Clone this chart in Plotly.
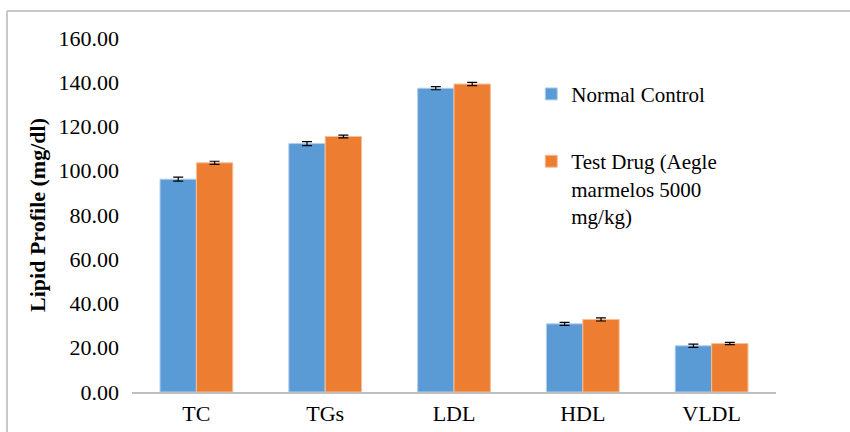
import plotly.graph_objects as go

categories = ["TC", "TGs", "LDL", "HDL", "VLDL"]
normal_control = [96.2, 112.3, 137.3, 30.8, 20.9]
normal_err = [0.9, 0.9, 0.7, 0.7, 0.7]
test_drug = [103.6, 115.5, 139.2, 32.8, 21.9]
test_err = [0.7, 0.6, 0.7, 0.7, 0.5]
y_ticks = [0, 20, 40, 60, 80, 100, 120, 140, 160]

FONT = "Liberation Serif"

W, H = 850, 432
L, R, T, B = 132, 74, 38, 40
PW, PH = W - L - R, H - T - B

fig = go.Figure()
fig.add_trace(go.Bar(
    name="Normal Control", x=categories, y=normal_control,
    marker=dict(color="#5b9bd5", line=dict(color="#b4cfee", width=1)),
    error_y=dict(type="data", array=normal_err, color="black", thickness=1.2, width=5),
    legendgroup="a"))
fig.add_trace(go.Bar(
    name="Test Drug (Aegle<br>marmelos 5000<br>mg/kg)", x=categories, y=test_drug,
    marker=dict(color="#ed7d31", line=dict(color="#f6bf98", width=1)),
    error_y=dict(type="data", array=test_err, color="black", thickness=1.2, width=5),
    legendgroup="b"))

# figure frame (only top and left edges visible in the crop)
bx0 = (7 - L) / PW
by1 = (PH + T - 11) / PH
frame = [
    dict(type="line", xref="paper", yref="paper", x0=bx0, x1=(W - L) / PW + 0.01,
         y0=by1, y1=by1, line=dict(color="#c8c8c8", width=2), layer="below"),
    dict(type="line", xref="paper", yref="paper", x0=bx0, x1=bx0,
         y0=by1, y1=-(B + 5) / PH, line=dict(color="#c8c8c8", width=2), layer="below"),
]

fig.update_layout(
    width=W, height=H,
    margin=dict(l=L, r=R, t=T, b=B, autoexpand=False),
    paper_bgcolor="white", plot_bgcolor="white",
    barmode="group", bargap=0.435, bargroupgap=0,
    font=dict(family=FONT, size=22, color="black"),
    showlegend=True,
    legend=dict(x=0.620, y=0.899, xanchor="left", yanchor="top", valign="top",
                font=dict(family=FONT, size=21, color="black"),
                tracegroupgap=37, itemwidth=30, bgcolor="rgba(0,0,0,0)"),
    xaxis=dict(showline=True, linecolor="#bfbfbf", linewidth=1.5, ticks="",
               tickfont=dict(family=FONT, size=22), showgrid=False,
               ticklabelstandoff=1, automargin=False),
    yaxis=dict(range=[0, 160], tickvals=y_ticks, tickformat=".2f",
               showgrid=False, zeroline=False, showline=False, ticks="",
               tickfont=dict(family=FONT, size=22), ticklabelstandoff=12,
               automargin=False,
               title=dict(text="<b>Lipid Profile (mg/dl)</b>",
                          font=dict(family=FONT, size=22), standoff=6)),
    shapes=frame,
)

fig.write_html(
    "out.html",
    config={"displayModeBar": False},
    post_script="document.body.style.margin='0';document.body.style.overflow='hidden';",
)
